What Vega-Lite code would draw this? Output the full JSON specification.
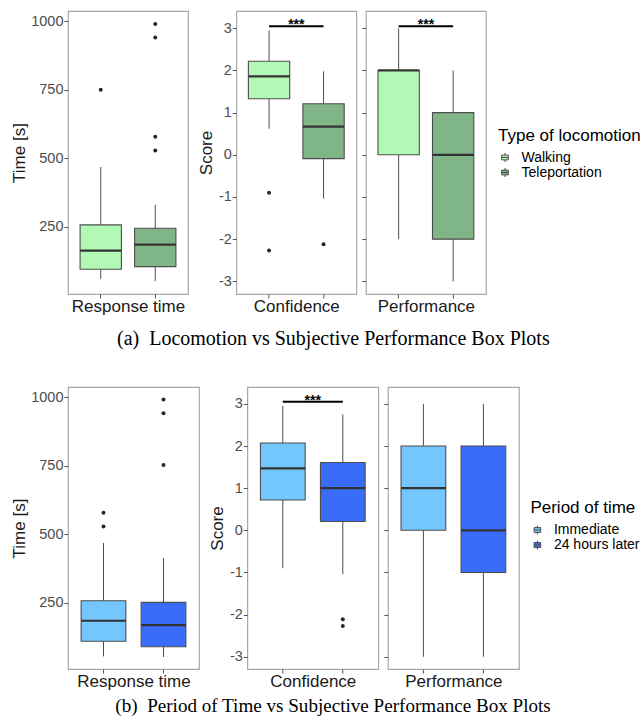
{
  "$schema": "https://vega.github.io/schema/vega-lite/v6.json",
  "padding": {"left": 9, "top": 10, "right": 0, "bottom": 5},
  "autosize": {"type": "pad"},
  "background": "#ffffff",
  "spacing": 36,
  "resolve": {"scale": {"fill": "independent"}},
  "config": {
    "font": "Liberation Sans",
    "view": {"stroke": "#a8a8a8", "strokeWidth": 1.2},
    "axis": {"grid": false, "domain": false, "tickColor": "#555555", "tickSize": 4, "tickWidth": 1, "labelFontSize": 14.5, "labelColor": "#4d4d4d", "labelPadding": 1, "titleFontSize": 17, "titleFontWeight": "normal", "titleColor": "#1a1a1a"},
    "axisX": {"labels": false, "titlePadding": 0},
    "axisY": {"titlePadding": 2.5, "labelExpr": "'' + datum.value"},
    "legend": {"titleFontSize": 17, "titleFontWeight": "normal", "titleColor": "#000000", "labelFontSize": 14, "labelColor": "#000000", "rowPadding": 1, "titlePadding": 6, "labelOffset": 9.5, "padding": 0}
  },
  "datasets": {
    "box1": [
      {"metric": "Response time", "group": "Walking", "lo": 60, "q1": 95, "med": 163, "q3": 257, "hi": 468},
      {"metric": "Response time", "group": "Teleportation", "lo": 52, "q1": 105, "med": 185, "q3": 245, "hi": 330},
      {"metric": "Confidence", "group": "Walking", "lo": 0.62, "q1": 1.33, "med": 1.86, "q3": 2.22, "hi": 2.95},
      {"metric": "Confidence", "group": "Teleportation", "lo": -1.04, "q1": -0.09, "med": 0.67, "q3": 1.21, "hi": 1.98},
      {"metric": "Performance", "group": "Walking", "lo": -2, "q1": 0, "med": 2, "q3": 2, "hi": 3},
      {"metric": "Performance", "group": "Teleportation", "lo": -3, "q1": -2, "med": 0, "q3": 1, "hi": 2}
    ],
    "out1": [
      {"metric": "Response time", "group": "Walking", "value": 750},
      {"metric": "Response time", "group": "Teleportation", "value": 990},
      {"metric": "Response time", "group": "Teleportation", "value": 940},
      {"metric": "Response time", "group": "Teleportation", "value": 578},
      {"metric": "Response time", "group": "Teleportation", "value": 528},
      {"metric": "Confidence", "group": "Walking", "value": -0.9},
      {"metric": "Confidence", "group": "Walking", "value": -2.27},
      {"metric": "Confidence", "group": "Teleportation", "value": -2.12}
    ],
    "sig1": [
      {"metric": "Confidence", "g1": "Walking", "g2": "Teleportation", "y": 3.05, "label": "***"},
      {"metric": "Performance", "g1": "Walking", "g2": "Teleportation", "y": 3.05, "label": "***"}
    ],
    "box2": [
      {"metric": "Response time", "group": "Immediate", "lo": 54, "q1": 109, "med": 184, "q3": 257, "hi": 468},
      {"metric": "Response time", "group": "24 hours later", "lo": 52, "q1": 89, "med": 168, "q3": 251, "hi": 413},
      {"metric": "Confidence", "group": "Immediate", "lo": -0.9, "q1": 0.72, "med": 1.47, "q3": 2.07, "hi": 2.95},
      {"metric": "Confidence", "group": "24 hours later", "lo": -1.04, "q1": 0.21, "med": 1.0, "q3": 1.61, "hi": 2.75},
      {"metric": "Performance", "group": "Immediate", "lo": -3, "q1": 0, "med": 1, "q3": 2, "hi": 3},
      {"metric": "Performance", "group": "24 hours later", "lo": -3, "q1": -1, "med": 0, "q3": 2, "hi": 3}
    ],
    "out2": [
      {"metric": "Response time", "group": "Immediate", "value": 578},
      {"metric": "Response time", "group": "Immediate", "value": 528},
      {"metric": "Response time", "group": "24 hours later", "value": 991},
      {"metric": "Response time", "group": "24 hours later", "value": 941},
      {"metric": "Response time", "group": "24 hours later", "value": 752},
      {"metric": "Confidence", "group": "24 hours later", "value": -2.11},
      {"metric": "Confidence", "group": "24 hours later", "value": -2.27}
    ],
    "sig2": [
      {"metric": "Confidence", "g1": "Immediate", "g2": "24 hours later", "y": 3.05, "label": "***"}
    ]
  },
  "vconcat": [
    {
      "title": {"text": "(a)\u00a0 Locomotion vs Subjective Performance Box Plots", "orient": "bottom", "anchor": "middle", "font": "Liberation Serif", "fontSize": 20, "fontWeight": "normal", "color": "#000000", "offset": 14, "dx": 8},
      "spacing": 8.3,
      "hconcat": [
        {
          "width": 120, "height": 283,
          "layer": [
            {"data": {"name": "box1"}, "transform": [{"filter": "datum.metric === 'Response time'"}],
             "mark": {"type": "rule", "color": "#4d4d4d", "strokeWidth": 1},
             "encoding": {
               "x": {"field": "group", "type": "nominal", "title": "Response time", "scale": {"domain": ["Walking", "Teleportation"], "paddingInner": 0.242, "paddingOuter": 0.222}},
               "y": {"field": "lo", "type": "quantitative", "title": "Time [s]", "scale": {"domain": [5, 1037], "nice": false, "zero": false}, "axis": {"values": [250, 500, 750, 1000]}},
               "y2": {"field": "hi"}}},
            {"data": {"name": "box1"}, "transform": [{"filter": "datum.metric === 'Response time'"}],
             "mark": {"type": "bar", "stroke": "#4d4d4d", "strokeWidth": 1.1},
             "encoding": {
               "x": {"field": "group", "type": "nominal", "title": "Response time"},
               "y": {"field": "q1", "type": "quantitative", "title": "Time [s]"},
               "y2": {"field": "q3"},
               "fill": {"field": "group", "type": "nominal", "title": "Type of locomotion",
                        "scale": {"domain": ["Walking", "Teleportation"], "range": ["#b2f9b6", "#80b587"]},
                        "legend": {"orient": "none", "legendX": 430, "legendY": 116.5, "symbolType": "M-0.55,-0.4H0.55V0.4H-0.55Z M-0.55,0H0.55 M0,-0.4V-0.75 M0,0.4V0.75", "symbolSize": 144, "symbolStrokeColor": "#333333", "symbolStrokeWidth": 1, "symbolOpacity": 1}}}},
            {"data": {"name": "box1"}, "transform": [{"filter": "datum.metric === 'Response time'"}],
             "mark": {"type": "bar", "stroke": "#333333", "strokeWidth": 2.2, "fillOpacity": 0},
             "encoding": {
               "x": {"field": "group", "type": "nominal", "title": "Response time"},
               "y": {"field": "med", "type": "quantitative", "title": "Time [s]"},
               "y2": {"field": "med"}}},
            {"data": {"name": "out1"}, "transform": [{"filter": "datum.metric === 'Response time'"}],
             "mark": {"type": "circle", "color": "#262626", "size": 16, "opacity": 1},
             "encoding": {
               "x": {"field": "group", "type": "nominal", "title": "Response time"},
               "y": {"field": "value", "type": "quantitative", "title": "Time [s]"}}}
          ]
        },
        {
          "spacing": 2.6,
          "hconcat": [
            {
              "width": 120, "height": 283,
              "layer": [
                {"data": {"name": "box1"}, "transform": [{"filter": "datum.metric === 'Confidence'"}],
                 "mark": {"type": "rule", "color": "#4d4d4d", "strokeWidth": 1},
                 "encoding": {
                   "x": {"field": "group", "type": "nominal", "title": "Confidence", "scale": {"domain": ["Walking", "Teleportation"], "paddingInner": 0.242, "paddingOuter": 0.222}},
                   "y": {"field": "lo", "type": "quantitative", "title": "Score", "scale": {"domain": [-3.3, 3.41], "nice": false, "zero": false}, "axis": {"values": [-3, -2, -1, 0, 1, 2, 3]}},
                   "y2": {"field": "hi"}}},
                {"data": {"name": "box1"}, "transform": [{"filter": "datum.metric === 'Confidence'"}],
                 "mark": {"type": "bar", "stroke": "#4d4d4d", "strokeWidth": 1.1},
                 "encoding": {
                   "x": {"field": "group", "type": "nominal", "title": "Confidence"},
                   "y": {"field": "q1", "type": "quantitative", "title": "Score"},
                   "y2": {"field": "q3"},
                   "fill": {"field": "group", "type": "nominal", "title": "Type of locomotion"}}},
                {"data": {"name": "box1"}, "transform": [{"filter": "datum.metric === 'Confidence'"}],
                 "mark": {"type": "bar", "stroke": "#333333", "strokeWidth": 2.2, "fillOpacity": 0},
                 "encoding": {
                   "x": {"field": "group", "type": "nominal", "title": "Confidence"},
                   "y": {"field": "med", "type": "quantitative", "title": "Score"},
                   "y2": {"field": "med"}}},
                {"data": {"name": "out1"}, "transform": [{"filter": "datum.metric === 'Confidence'"}],
                 "mark": {"type": "circle", "color": "#262626", "size": 16, "opacity": 1},
                 "encoding": {
                   "x": {"field": "group", "type": "nominal", "title": "Confidence"},
                   "y": {"field": "value", "type": "quantitative", "title": "Score"}}},
                {"data": {"name": "sig1"}, "transform": [{"filter": "datum.metric === 'Confidence'"}],
                 "mark": {"type": "rule", "color": "#000000", "strokeWidth": 2},
                 "encoding": {
                   "x": {"field": "g1", "type": "nominal", "title": "Confidence"},
                   "x2": {"field": "g2"},
                   "y": {"field": "y", "type": "quantitative", "title": "Score"}}},
                {"data": {"name": "sig1"}, "transform": [{"filter": "datum.metric === 'Confidence'"}],
                 "mark": {"type": "text", "baseline": "alphabetic", "dy": 3, "dx": 6.6, "fontSize": 14, "fontWeight": "bold", "color": "#000000"},
                 "encoding": {
                   "x": {"field": "g1", "type": "nominal", "title": "Confidence", "bandPosition": 1},
                   "y": {"field": "y", "type": "quantitative", "title": "Score"},
                   "text": {"field": "label"}}}
              ]
            },
            {
              "width": 120, "height": 283,
              "layer": [
                {"data": {"name": "box1"}, "transform": [{"filter": "datum.metric === 'Performance'"}],
                 "mark": {"type": "rule", "color": "#4d4d4d", "strokeWidth": 1},
                 "encoding": {
                   "x": {"field": "group", "type": "nominal", "title": "Performance", "scale": {"domain": ["Walking", "Teleportation"], "paddingInner": 0.242, "paddingOuter": 0.222}},
                   "y": {"field": "lo", "type": "quantitative", "title": null, "scale": {"domain": [-3.3, 3.41], "nice": false, "zero": false}, "axis": {"values": [-3, -2, -1, 0, 1, 2, 3], "labels": false, "minExtent": 0}},
                   "y2": {"field": "hi"}}},
                {"data": {"name": "box1"}, "transform": [{"filter": "datum.metric === 'Performance'"}],
                 "mark": {"type": "bar", "stroke": "#4d4d4d", "strokeWidth": 1.1},
                 "encoding": {
                   "x": {"field": "group", "type": "nominal", "title": "Performance"},
                   "y": {"field": "q1", "type": "quantitative", "title": null},
                   "y2": {"field": "q3"},
                   "fill": {"field": "group", "type": "nominal", "title": "Type of locomotion"}}},
                {"data": {"name": "box1"}, "transform": [{"filter": "datum.metric === 'Performance'"}],
                 "mark": {"type": "bar", "stroke": "#333333", "strokeWidth": 2.2, "fillOpacity": 0},
                 "encoding": {
                   "x": {"field": "group", "type": "nominal", "title": "Performance"},
                   "y": {"field": "med", "type": "quantitative", "title": null},
                   "y2": {"field": "med"}}},
                {"data": {"name": "sig1"}, "transform": [{"filter": "datum.metric === 'Performance'"}],
                 "mark": {"type": "rule", "color": "#000000", "strokeWidth": 2},
                 "encoding": {
                   "x": {"field": "g1", "type": "nominal", "title": "Performance"},
                   "x2": {"field": "g2"},
                   "y": {"field": "y", "type": "quantitative", "title": null}}},
                {"data": {"name": "sig1"}, "transform": [{"filter": "datum.metric === 'Performance'"}],
                 "mark": {"type": "text", "baseline": "alphabetic", "dy": 3, "dx": 6.6, "fontSize": 14, "fontWeight": "bold", "color": "#000000"},
                 "encoding": {
                   "x": {"field": "g1", "type": "nominal", "title": "Performance", "bandPosition": 1},
                   "y": {"field": "y", "type": "quantitative", "title": null},
                   "text": {"field": "label"}}}
              ]
            }
          ]
        }
      ]
    },
    {
      "title": {"text": "(b)\u00a0 Period of Time vs Subjective Performance Box Plots", "orient": "bottom", "anchor": "middle", "font": "Liberation Serif", "fontSize": 19.1, "fontWeight": "normal", "color": "#000000", "offset": 7, "dx": 8},
      "spacing": 8.3,
      "hconcat": [
        {
          "width": 131, "height": 282,
          "layer": [
            {"data": {"name": "box2"}, "transform": [{"filter": "datum.metric === 'Response time'"}],
             "mark": {"type": "rule", "color": "#4d4d4d", "strokeWidth": 1},
             "encoding": {
               "x": {"field": "group", "type": "nominal", "title": "Response time", "scale": {"domain": ["Immediate", "24 hours later"], "paddingInner": 0.255, "paddingOuter": 0.219}},
               "y": {"field": "lo", "type": "quantitative", "title": "Time [s]", "scale": {"domain": [8, 1037], "nice": false, "zero": false}, "axis": {"values": [250, 500, 750, 1000]}},
               "y2": {"field": "hi"}}},
            {"data": {"name": "box2"}, "transform": [{"filter": "datum.metric === 'Response time'"}],
             "mark": {"type": "bar", "stroke": "#4d4d4d", "strokeWidth": 1.1},
             "encoding": {
               "x": {"field": "group", "type": "nominal", "title": "Response time"},
               "y": {"field": "q1", "type": "quantitative", "title": "Time [s]"},
               "y2": {"field": "q3"},
               "fill": {"field": "group", "type": "nominal", "title": "Period of time",
                        "scale": {"domain": ["Immediate", "24 hours later"], "range": ["#74c7fc", "#3a6cfa"]},
                        "legend": {"orient": "none", "legendX": 462.4, "legendY": 113, "symbolType": "M-0.55,-0.4H0.55V0.4H-0.55Z M-0.55,0H0.55 M0,-0.4V-0.75 M0,0.4V0.75", "symbolSize": 144, "symbolStrokeColor": "#333333", "symbolStrokeWidth": 1, "symbolOpacity": 1}}}},
            {"data": {"name": "box2"}, "transform": [{"filter": "datum.metric === 'Response time'"}],
             "mark": {"type": "bar", "stroke": "#333333", "strokeWidth": 2.2, "fillOpacity": 0},
             "encoding": {
               "x": {"field": "group", "type": "nominal", "title": "Response time"},
               "y": {"field": "med", "type": "quantitative", "title": "Time [s]"},
               "y2": {"field": "med"}}},
            {"data": {"name": "out2"}, "transform": [{"filter": "datum.metric === 'Response time'"}],
             "mark": {"type": "circle", "color": "#262626", "size": 16, "opacity": 1},
             "encoding": {
               "x": {"field": "group", "type": "nominal", "title": "Response time"},
               "y": {"field": "value", "type": "quantitative", "title": "Time [s]"}}}
          ]
        },
        {
          "spacing": 2.6,
          "hconcat": [
            {
              "width": 131, "height": 282,
              "layer": [
                {"data": {"name": "box2"}, "transform": [{"filter": "datum.metric === 'Confidence'"}],
                 "mark": {"type": "rule", "color": "#4d4d4d", "strokeWidth": 1},
                 "encoding": {
                   "x": {"field": "group", "type": "nominal", "title": "Confidence", "scale": {"domain": ["Immediate", "24 hours later"], "paddingInner": 0.255, "paddingOuter": 0.219}},
                   "y": {"field": "lo", "type": "quantitative", "title": "Score", "scale": {"domain": [-3.29, 3.4], "nice": false, "zero": false}, "axis": {"values": [-3, -2, -1, 0, 1, 2, 3]}},
                   "y2": {"field": "hi"}}},
                {"data": {"name": "box2"}, "transform": [{"filter": "datum.metric === 'Confidence'"}],
                 "mark": {"type": "bar", "stroke": "#4d4d4d", "strokeWidth": 1.1},
                 "encoding": {
                   "x": {"field": "group", "type": "nominal", "title": "Confidence"},
                   "y": {"field": "q1", "type": "quantitative", "title": "Score"},
                   "y2": {"field": "q3"},
                   "fill": {"field": "group", "type": "nominal", "title": "Period of time"}}},
                {"data": {"name": "box2"}, "transform": [{"filter": "datum.metric === 'Confidence'"}],
                 "mark": {"type": "bar", "stroke": "#333333", "strokeWidth": 2.2, "fillOpacity": 0},
                 "encoding": {
                   "x": {"field": "group", "type": "nominal", "title": "Confidence"},
                   "y": {"field": "med", "type": "quantitative", "title": "Score"},
                   "y2": {"field": "med"}}},
                {"data": {"name": "out2"}, "transform": [{"filter": "datum.metric === 'Confidence'"}],
                 "mark": {"type": "circle", "color": "#262626", "size": 16, "opacity": 1},
                 "encoding": {
                   "x": {"field": "group", "type": "nominal", "title": "Confidence"},
                   "y": {"field": "value", "type": "quantitative", "title": "Score"}}},
                {"data": {"name": "sig2"}, "transform": [{"filter": "datum.metric === 'Confidence'"}],
                 "mark": {"type": "rule", "color": "#000000", "strokeWidth": 2},
                 "encoding": {
                   "x": {"field": "g1", "type": "nominal", "title": "Confidence"},
                   "x2": {"field": "g2"},
                   "y": {"field": "y", "type": "quantitative", "title": "Score"}}},
                {"data": {"name": "sig2"}, "transform": [{"filter": "datum.metric === 'Confidence'"}],
                 "mark": {"type": "text", "baseline": "alphabetic", "dy": 3, "dx": 7.6, "fontSize": 14, "fontWeight": "bold", "color": "#000000"},
                 "encoding": {
                   "x": {"field": "g1", "type": "nominal", "title": "Confidence", "bandPosition": 1},
                   "y": {"field": "y", "type": "quantitative", "title": "Score"},
                   "text": {"field": "label"}}}
              ]
            },
            {
              "width": 131, "height": 282,
              "layer": [
                {"data": {"name": "box2"}, "transform": [{"filter": "datum.metric === 'Performance'"}],
                 "mark": {"type": "rule", "color": "#4d4d4d", "strokeWidth": 1},
                 "encoding": {
                   "x": {"field": "group", "type": "nominal", "title": "Performance", "scale": {"domain": ["Immediate", "24 hours later"], "paddingInner": 0.255, "paddingOuter": 0.219}},
                   "y": {"field": "lo", "type": "quantitative", "title": null, "scale": {"domain": [-3.29, 3.4], "nice": false, "zero": false}, "axis": {"values": [-3, -2, -1, 0, 1, 2, 3], "labels": false, "minExtent": 0}},
                   "y2": {"field": "hi"}}},
                {"data": {"name": "box2"}, "transform": [{"filter": "datum.metric === 'Performance'"}],
                 "mark": {"type": "bar", "stroke": "#4d4d4d", "strokeWidth": 1.1},
                 "encoding": {
                   "x": {"field": "group", "type": "nominal", "title": "Performance"},
                   "y": {"field": "q1", "type": "quantitative", "title": null},
                   "y2": {"field": "q3"},
                   "fill": {"field": "group", "type": "nominal", "title": "Period of time"}}},
                {"data": {"name": "box2"}, "transform": [{"filter": "datum.metric === 'Performance'"}],
                 "mark": {"type": "bar", "stroke": "#333333", "strokeWidth": 2.2, "fillOpacity": 0},
                 "encoding": {
                   "x": {"field": "group", "type": "nominal", "title": "Performance"},
                   "y": {"field": "med", "type": "quantitative", "title": null},
                   "y2": {"field": "med"}}}
              ]
            }
          ]
        }
      ]
    }
  ]
}
